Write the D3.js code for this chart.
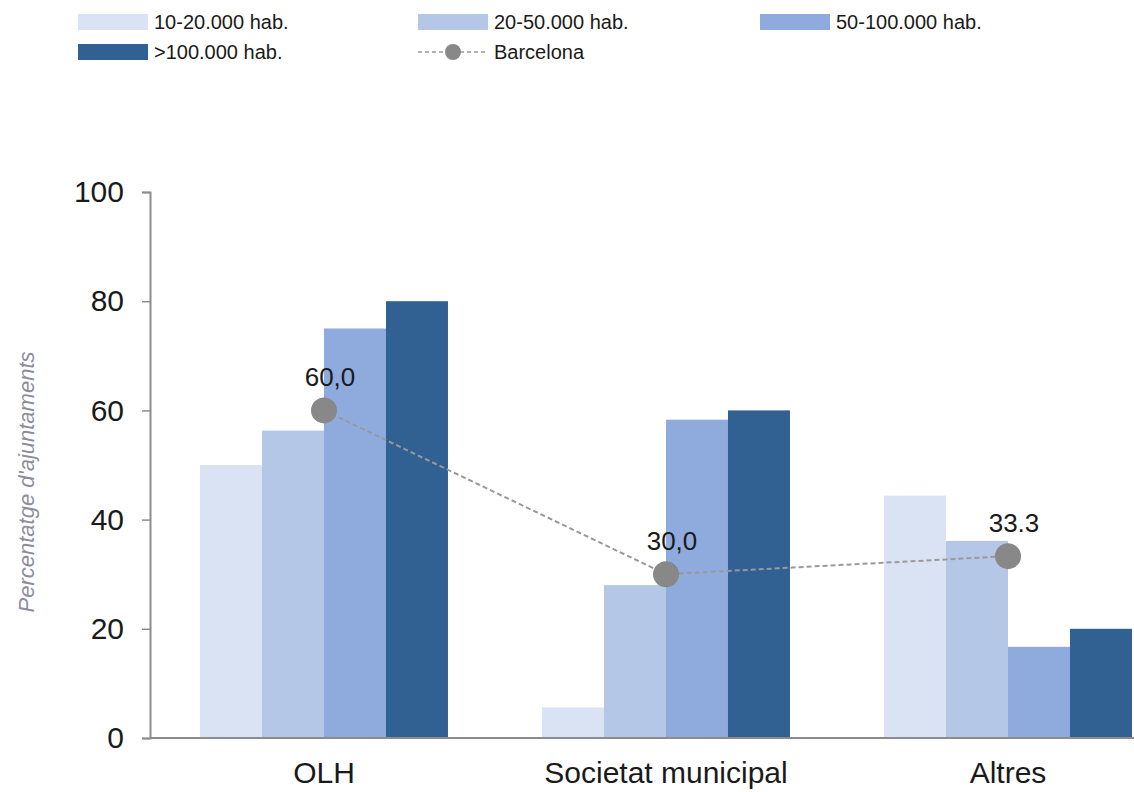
<!DOCTYPE html>
<html>
<head>
<meta charset="utf-8">
<script src="https://cdn.jsdelivr.net/npm/d3@7"></script>
<style>
  body { margin: 0; background: #fff; }
  text { font-family: "Liberation Sans", Arial, sans-serif; }
</style>
</head>
<body>
<div id="chart"></div>
<script>
const categories = ['OLH', 'Societat municipal', 'Altres']
const series = ['10-20.000 hab.', '20-50.000 hab.', '50-100.000 hab.', '>100.000 hab.']
const colors = ['#dae3f3', '#b4c7e7', '#8faadc', '#316093']
const values = [
  [50.0, 56.3, 75.0, 80.0],
  [5.6, 28.0, 58.3, 60.0],
  [44.4, 36.1, 16.7, 20.0]
]
const barcelona = [60.0, 30.0, 33.3]
const barcelonaLabels = ['60,0', '30,0', '33.3']
const yTicks = [0, 20, 40, 60, 80, 100]

const width = 1134, height = 792
const margin = {left: 150, top: 192, right: 0, bottom: 54}

const svg = d3.select('#chart').append('svg')
  .attr('width', width)
  .attr('height', height)

const y = d3.scaleLinear()
  .domain([0, 100])
  .range([height - margin.bottom, margin.top])

const x0 = d3.scaleBand()
  .domain(categories)
  .range([153, 1179])
  .paddingInner(0.275)
  .paddingOuter(0.1375)

const x1 = d3.scaleBand()
  .domain(series)
  .range([0, x0.bandwidth()])

// bars
const groups = svg.append('g').selectAll('g')
  .data(categories)
  .join('g')
  .attr('transform', d => `translate(${x0(d)},0)`)

groups.selectAll('rect')
  .data((d, i) => values[i].map((v, j) => ({s: series[j], v, c: colors[j]})))
  .join('rect')
  .attr('x', d => x1(d.s))
  .attr('width', x1.bandwidth())
  .attr('y', d => y(d.v))
  .attr('height', d => y(0) - y(d.v))
  .attr('fill', d => d.c)

// axes
const yAxis = svg.append('g')
  .attr('transform', `translate(${margin.left},0)`)
  .call(d3.axisLeft(y).tickValues(yTicks).tickSize(8).tickPadding(18))
yAxis.select('.domain').attr('stroke', '#8c8c8c').attr('stroke-width', 2)
yAxis.selectAll('.tick line').attr('stroke', '#8c8c8c').attr('stroke-width', 1.5)
yAxis.selectAll('.tick text')
  .attr('font-size', 30)
  .attr('fill', '#1a1a1a')
  .attr('font-family', '"Liberation Sans", Arial, sans-serif')

svg.append('line')
  .attr('x1', margin.left).attr('x2', width)
  .attr('y1', y(0)).attr('y2', y(0))
  .attr('stroke', '#8c8c8c').attr('stroke-width', 2)

svg.append('g').selectAll('text')
  .data(categories)
  .join('text')
  .attr('x', d => x0(d) + x0.bandwidth() / 2)
  .attr('y', 783)
  .attr('text-anchor', 'middle')
  .attr('font-size', 30)
  .attr('fill', '#1a1a1a')
  .text(d => d)

svg.append('text')
  .attr('transform', `translate(34,482) rotate(-90)`)
  .attr('text-anchor', 'middle')
  .attr('font-size', 22)
  .attr('font-style', 'italic')
  .attr('fill', '#8c8c9c')
  .text("Percentatge d'ajuntaments")

// Barcelona line
const bx = d => x0(d) + x0.bandwidth() / 2
const line = d3.line()
  .x((d, i) => bx(categories[i]))
  .y(d => y(d))

svg.append('path')
  .attr('d', line(barcelona))
  .attr('fill', 'none')
  .attr('stroke', '#999')
  .attr('stroke-width', 2)
  .attr('stroke-dasharray', '5,3')

svg.append('g').selectAll('circle')
  .data(barcelona)
  .join('circle')
  .attr('cx', (d, i) => bx(categories[i]))
  .attr('cy', d => y(d))
  .attr('r', 13)
  .attr('fill', '#888')

svg.append('g').selectAll('text')
  .data(barcelona)
  .join('text')
  .attr('x', (d, i) => bx(categories[i]) + 6)
  .attr('y', d => y(d) - 24)
  .attr('text-anchor', 'middle')
  .attr('font-size', 26)
  .attr('fill', '#1a1a1a')
  .text((d, i) => barcelonaLabels[i])

// legend
const legendPos = [[78, 22], [418, 22], [760, 22], [78, 52]]
const legend = svg.append('g')
series.forEach((s, i) => {
  const [lx, ly] = legendPos[i]
  legend.append('rect')
    .attr('x', lx).attr('y', ly - 8)
    .attr('width', 70).attr('height', 16)
    .attr('fill', colors[i])
  legend.append('text')
    .attr('x', lx + 76).attr('y', ly + 7)
    .attr('font-size', 20)
    .attr('fill', '#1a1a1a')
    .text(s)
})
legend.append('line')
  .attr('x1', 418).attr('x2', 488)
  .attr('y1', 52).attr('y2', 52)
  .attr('stroke', '#999').attr('stroke-width', 1.5)
  .attr('stroke-dasharray', '4,3')
legend.append('circle')
  .attr('cx', 453).attr('cy', 52).attr('r', 8)
  .attr('fill', '#888')
legend.append('text')
  .attr('x', 494).attr('y', 59)
  .attr('font-size', 20)
  .attr('fill', '#1a1a1a')
  .text('Barcelona')
</script>
</body>
</html>
